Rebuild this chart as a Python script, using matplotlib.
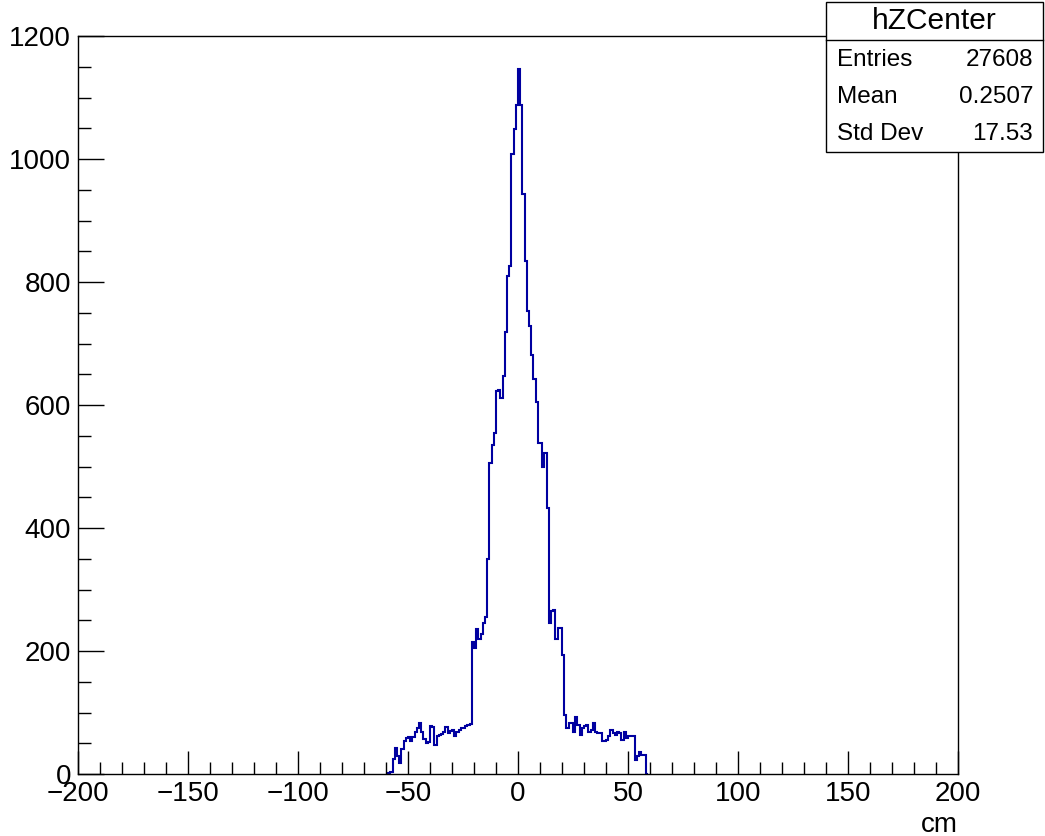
import numpy as np
import matplotlib
matplotlib.use("Agg")
import matplotlib.pyplot as plt
from matplotlib.ticker import MultipleLocator
from matplotlib.patches import Rectangle
from matplotlib.lines import Line2D

plt.rcParams['font.family'] = ['Liberation Sans', 'DejaVu Sans']

# Histogram: 1 cm bins, left edges from -59 to 58
bin_low = -59
bin_width = 1
counts = [
    2, 4, 25, 42, 30, 18, 40, 53, 58, 60,          # -59 .. -50
    53, 60, 68, 75, 83, 68, 57, 50, 52, 78,         # -49 .. -40
    76, 47, 61, 63, 65, 69, 76, 66, 70, 72,         # -39 .. -30
    61, 68, 72, 74, 75, 78, 80, 82, 215, 205,       # -29 .. -20
    235, 220, 228, 245, 255, 350, 505, 535, 555, 623,   # -19 .. -10
    625, 612, 647, 719, 810, 826, 1008, 1049, 1087,     # -9 .. -1
    1147,                                               # 0
    1087, 943, 834, 753, 729, 682, 642, 605, 538, 538,  # 1 .. 10
    500, 522, 433, 246, 265, 267, 220, 238, 238, 194,   # 11 .. 20
    96, 75, 83, 83, 69, 93, 80, 63, 75, 78,             # 21 .. 30
    80, 69, 72, 83, 69, 67, 67, 53, 53, 55,             # 31 .. 40
    61, 72, 67, 63, 69, 66, 55, 69, 58, 61,             # 41 .. 50
    61, 61, 23, 30, 36, 31, 31, 0,                      # 51 .. 58
]
hist_name = "hZCenter"
stat_labels = ["Entries", "Mean", "Std Dev"]
stat_values = ["27608", "0.2507", "17.53"]
x_title = "cm"

W, H = 1045, 836
fig = plt.figure(figsize=(W / 100, H / 100), dpi=100)
left, right, bottom, top = 78, 958, 774, 36
ax = fig.add_axes([left / W, (H - bottom) / H, (right - left) / W, (bottom - top) / H])

edges = bin_low + bin_width * np.arange(len(counts) + 1)
ax.stairs(counts, edges, color='#0000a0', linewidth=1.5, baseline=0)

ax.set_xlim(-200, 200)
ax.set_ylim(0, 1200)
ax.xaxis.set_major_locator(MultipleLocator(50))
ax.xaxis.set_minor_locator(MultipleLocator(10))
ax.yaxis.set_major_locator(MultipleLocator(200))
ax.yaxis.set_minor_locator(MultipleLocator(50))

ax.tick_params(axis='x', which='major', direction='in', length=16.5, width=1.0, labelsize=20, pad=5)
ax.tick_params(axis='x', which='minor', direction='in', length=8.5, width=1.0)
ax.tick_params(axis='y', which='major', direction='in', length=19, width=1.0, labelsize=20, pad=5)
ax.tick_params(axis='y', which='minor', direction='in', length=9.5, width=1.0)
ax.tick_params(top=False, right=False, which='both')
for s in ax.spines.values():
    s.set_linewidth(1.0)

fig.text(right / W, (H - 825) / H, x_title, ha='right', va='center', fontsize=20)

# Stats box
bx0, bx1, by0, by1 = 826, 1043, 2, 152
fig.patches.append(Rectangle((bx0 / W, (H - by1) / H), (bx1 - bx0) / W, (by1 - by0) / H,
                             transform=fig.transFigure, facecolor='white', edgecolor='black',
                             linewidth=1.0, zorder=5))
fig.lines.append(Line2D([bx0 / W, bx1 / W], [(H - 40) / H, (H - 40) / H],
                        transform=fig.transFigure, color='black', linewidth=1.0, zorder=6))
fig.text((bx0 + bx1) / 2 / W, (H - 21) / H, hist_name, ha='center', va='center', fontsize=21.5, zorder=7)
rows_y = [60, 97, 134]
for lab, val, yy in zip(stat_labels, stat_values, rows_y):
    fig.text(837 / W, (H - yy) / H, lab, ha='left', va='center', fontsize=17.5, zorder=7)
    fig.text(1033 / W, (H - yy) / H, val, ha='right', va='center', fontsize=17.5, zorder=7)

fig.savefig("out.png", dpi=100)
